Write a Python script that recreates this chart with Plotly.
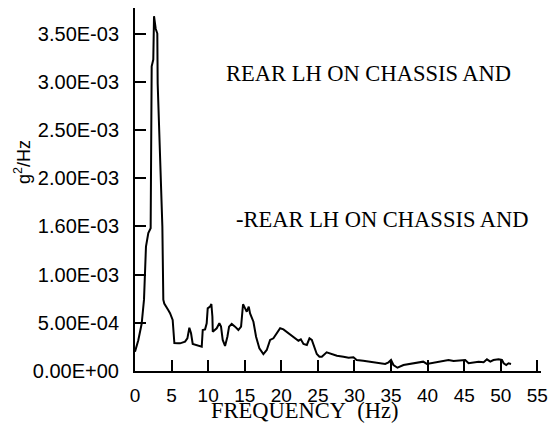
import plotly.graph_objects as go

freq_hz = [0, 0.45, 0.91, 1.23, 1.5, 1.82, 2.14, 2.28, 2.5, 2.6, 2.83, 3.05, 3.1, 3.42, 3.74,
           3.87, 4.0, 4.56, 4.79, 5.15, 5.38, 5.9, 6.16, 6.84, 7.16, 7.43, 7.66, 7.89, 8.43,
           9.12, 9.26, 9.58, 9.8, 9.94, 10.26, 10.44, 10.58, 10.63, 11.17, 11.53, 11.76, 11.99,
           12.31, 12.63, 12.86, 13.22, 13.68, 14.13, 14.5, 14.64, 14.77, 15.05, 15.28, 15.55,
           15.73, 16.19, 16.55, 17.0, 17.55, 18.01, 18.47, 18.92, 19.38, 19.84, 20.29, 20.97,
           21.66, 22.34, 22.67, 23.03, 23.49, 23.85, 24.17, 24.49, 24.85, 25.21, 25.54, 26.2,
           26.9, 27.6, 28.5, 29.2, 29.86, 30.3, 31.2, 32.15, 33.3, 34.2, 34.66, 35.0, 35.33,
           35.88, 36.7, 37.6, 38.5, 39.4, 39.9, 41.04, 41.95, 42.86, 43.55, 44.46, 45.14, 45.6,
           46.3, 46.97, 47.66, 48.11, 48.57, 49.0, 49.7, 50.16, 50.4, 50.75, 51.06, 51.4]

psd_e4 = [2.0, 3.2, 4.9, 7.4, 12.9, 14.3, 14.8, 31.6, 32.3, 36.8, 35.5, 35.0, 29.8, 22.9, 15.0,
          7.4, 7.0, 6.3, 6.0, 5.3, 2.9, 2.87, 2.87, 3.04, 3.39, 4.49, 3.91, 2.8, 2.7,
          2.52, 4.25, 4.32, 4.95, 6.5, 6.67, 6.95, 5.63, 4.08, 4.43, 4.95, 4.6, 3.22,
          2.6, 3.56, 4.6, 4.88, 4.6, 4.25, 4.6, 5.98, 6.92, 6.5, 6.15, 6.67,
          5.98, 5.11, 3.56, 2.35, 1.76, 2.18, 3.22, 3.39, 3.91, 4.43, 4.32, 3.91,
          3.5, 3.14, 3.29, 2.8, 2.7, 3.39, 3.22, 2.52, 1.76, 1.48, 1.48, 1.94,
          1.76, 1.59, 1.48, 1.38, 1.42, 1.14, 1.07, 0.97, 0.86, 0.73, 0.9, 1.14, 0.62,
          0.34, 0.62, 0.73, 0.86, 0.97, 0.73, 0.86, 0.97, 1.14, 1.04, 1.07, 1.14, 0.8,
          0.86, 0.97, 0.9, 1.21, 0.97, 1.14, 1.21, 1.14, 0.8, 0.62, 0.8, 0.73]
psd = [v * 1e-4 for v in psd_e4]

x_ticks = [0, 5, 10, 15, 20, 25, 30, 35, 40, 45, 50, 55]
y_ticks = [0, 0.0005, 0.001, 0.0015, 0.002, 0.0025, 0.003, 0.0035]
y_tick_labels = ["0.00E+00", "5.00E-04", "1.00E-03", "1.60E-03", "2.00E-03",
                 "2.50E-03", "3.00E-03", "3.50E-03"]
legend_texts = ["REAR LH ON CHASSIS AND", "-REAR LH ON CHASSIS AND"]

fig = go.Figure()
fig.add_trace(go.Scatter(x=freq_hz, y=psd, mode="lines",
                         line=dict(color="black", width=2), showlegend=False))

serif = "Liberation Serif, Times New Roman, serif"
sans = "Liberation Sans, Arial, sans-serif"

# page has an 8px body margin; plot area spans page x 135..541, y 8..371
PH = 363.0
def py(page_y):
    return (371 - page_y) / PH
def px(page_x):
    return (page_x - 135) / 406.0

fig.update_layout(
    width=552, height=422,
    margin=dict(l=127, r=19, t=0, b=59, pad=0),
    paper_bgcolor="white", plot_bgcolor="white",
    xaxis=dict(range=[0, 55.5], tickvals=x_ticks, ticks="inside", ticklen=11, tickwidth=2,
               tickcolor="black", showline=True, linecolor="black", linewidth=2,
               showgrid=False, zeroline=False, ticklabelstandoff=6,
               tickfont=dict(family=sans, size=19, color="black")),
    yaxis=dict(range=[0, 0.003765], tickvals=y_ticks, ticktext=y_tick_labels,
               ticks="inside", ticklen=11, tickwidth=2, tickcolor="black",
               showline=True, linecolor="black", linewidth=2, showgrid=False,
               zeroline=False, ticklabelstandoff=10,
               tickfont=dict(family=sans, size=20, color="black")),
    annotations=[
        dict(text=legend_texts[0], xref="paper", yref="paper", x=px(224),
             y=py(74), xanchor="left", yanchor="middle", showarrow=False,
             font=dict(family=serif, size=22.5, color="black")),
        dict(text=legend_texts[1], xref="paper", yref="paper", x=px(234),
             y=py(219), xanchor="left", yanchor="middle", showarrow=False,
             font=dict(family=serif, size=22.5, color="black")),
        dict(text="FREQUENCY\u00a0 (Hz)", xref="paper", yref="paper", x=px(304),
             y=py(410), xanchor="center", yanchor="middle", showarrow=False,
             font=dict(family=serif, size=22.5, color="black")),
        dict(text="g<sup>2</sup>/Hz", xref="paper", yref="paper", x=px(23),
             y=py(162), xanchor="center", yanchor="middle", showarrow=False,
             textangle=-90, font=dict(family=sans, size=18, color="black")),
    ],
)

fig.write_html("out.html")
